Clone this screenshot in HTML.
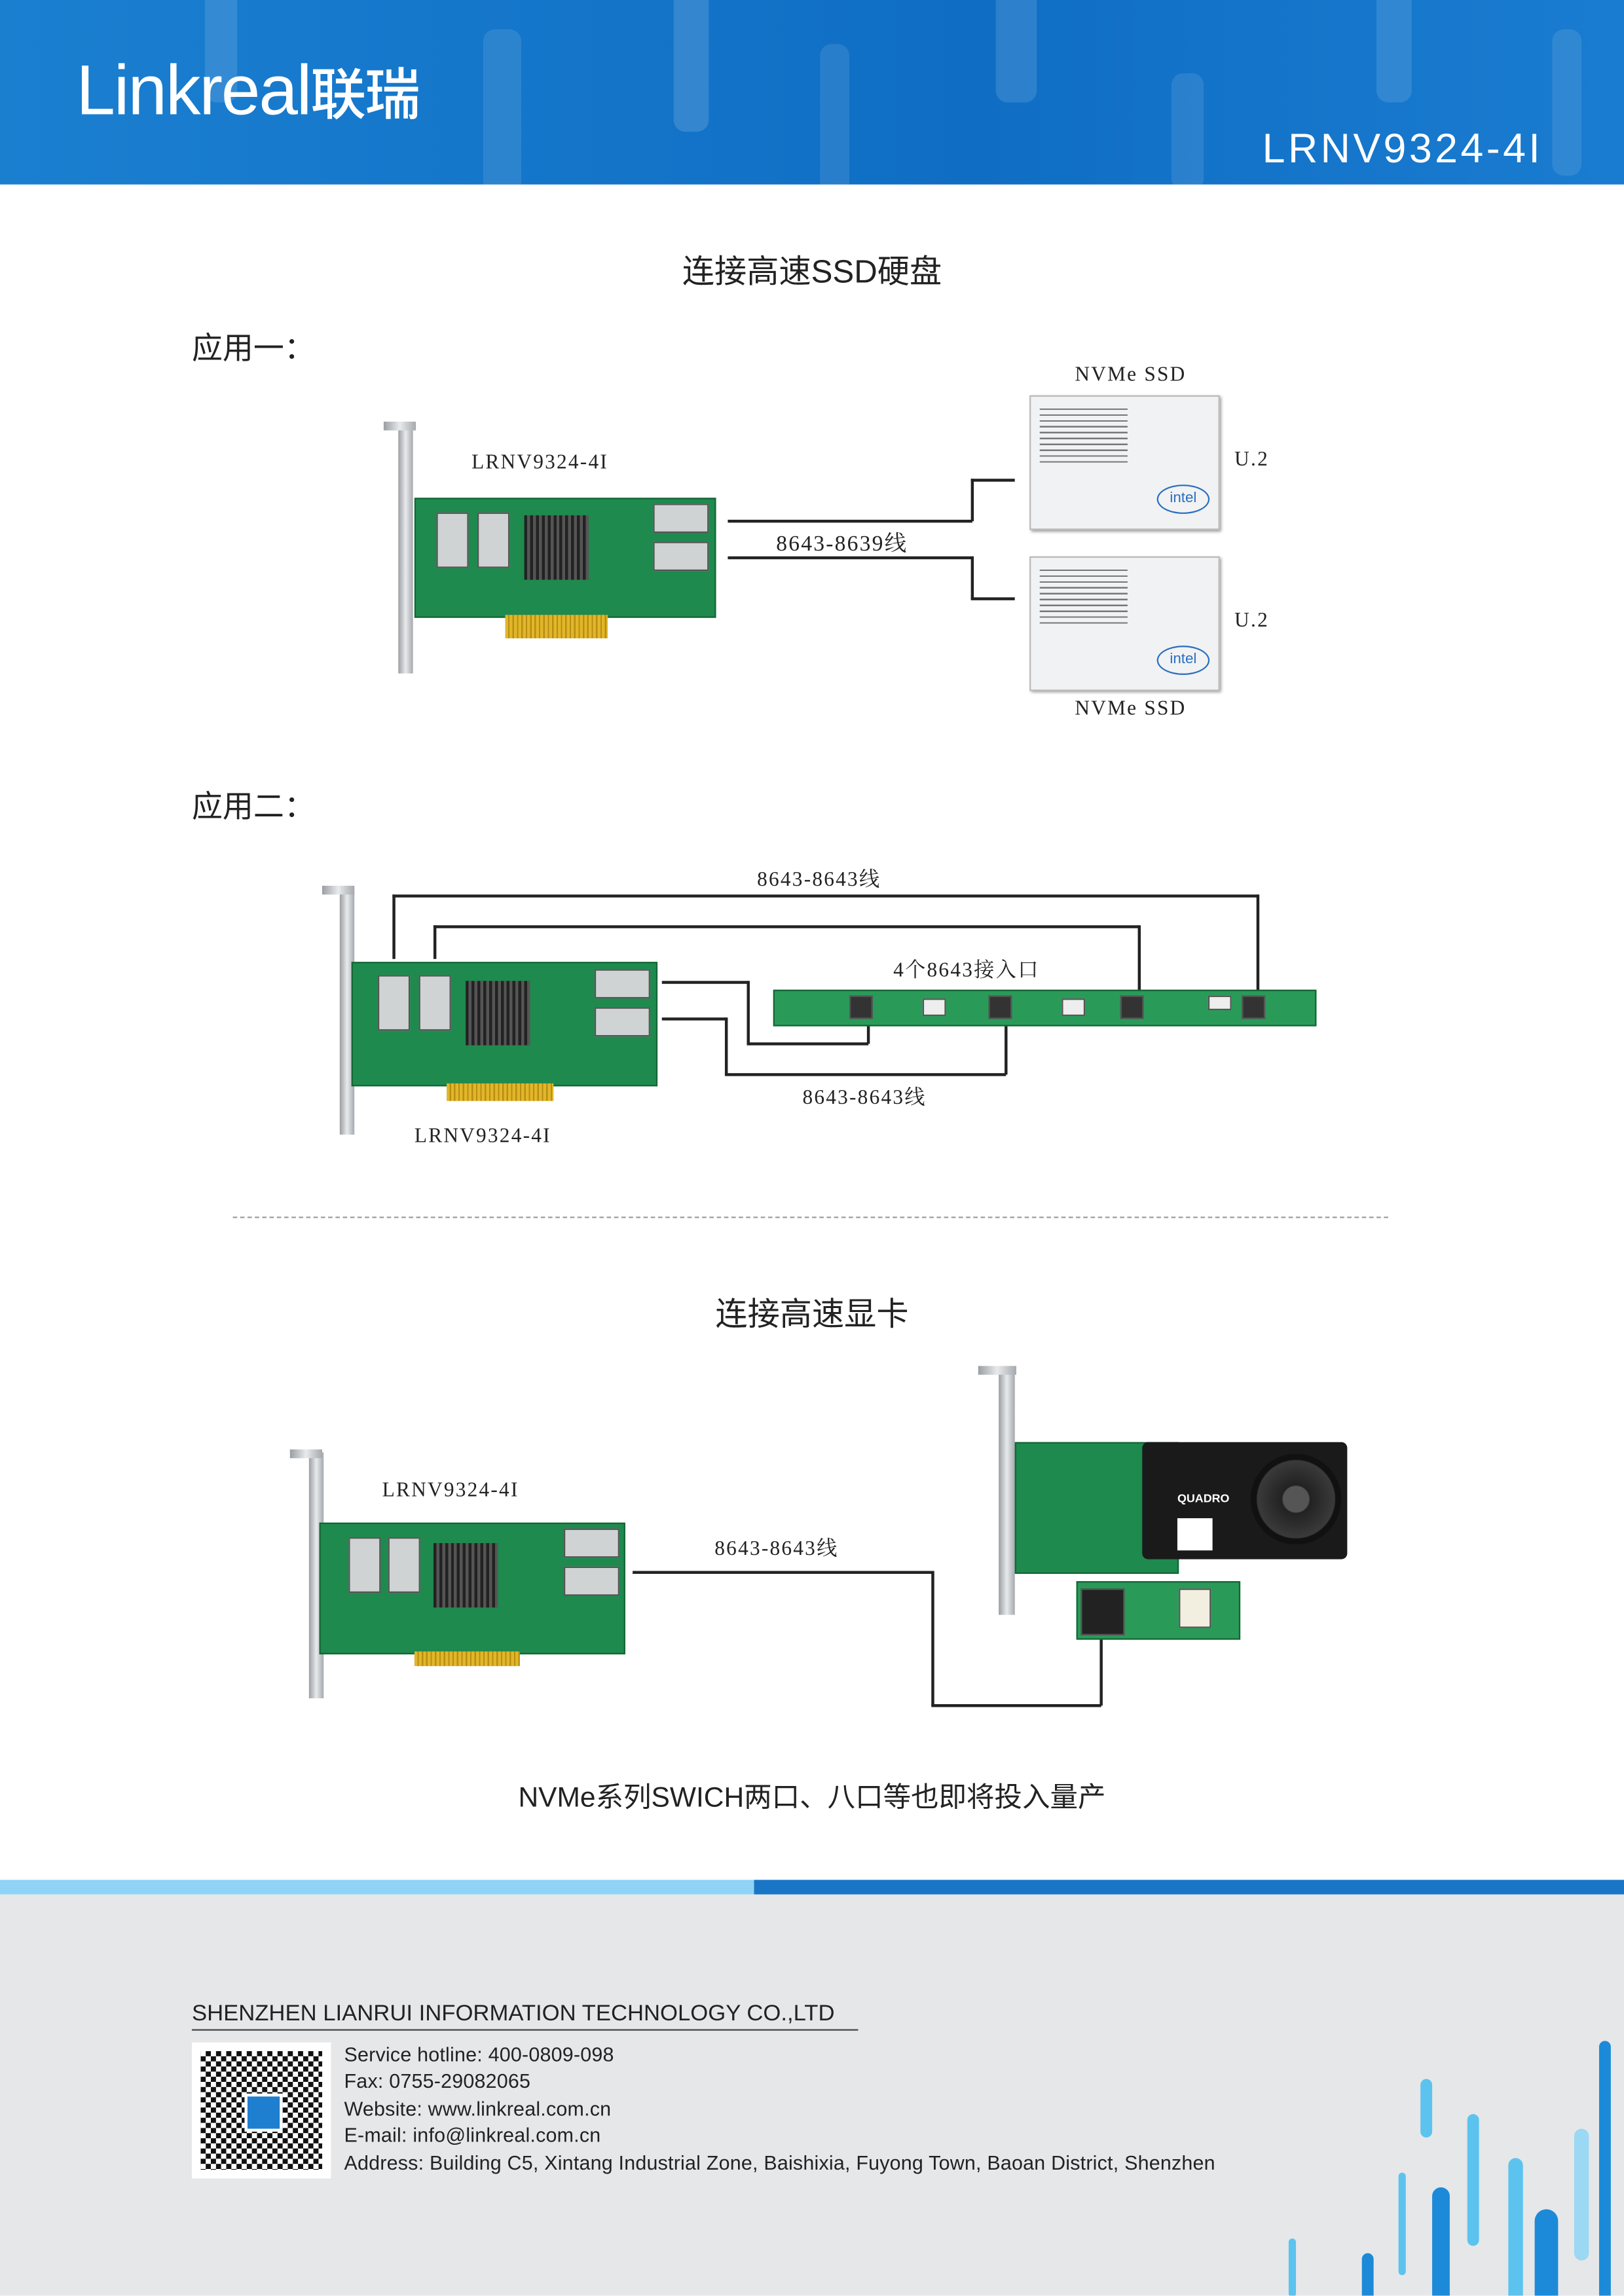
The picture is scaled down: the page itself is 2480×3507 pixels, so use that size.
<!DOCTYPE html>
<html><head><meta charset="utf-8">
<style>
html,body{margin:0;padding:0;}
body{width:2480px;height:3507px;overflow:hidden;background:#fff;}
#w{position:absolute;left:0;top:0;width:1109px;height:1568px;transform:scale(2.23625);transform-origin:0 0;font-family:"Liberation Sans","Noto Sans CJK SC",sans-serif;}
.a{position:absolute;}
.serif{font-family:"Liberation Serif","Noto Serif CJK SC",serif;color:#222;font-size:14px;letter-spacing:1px;white-space:nowrap;}
.l{position:absolute;background:#222;}
.pcb{position:absolute;background:#1e8a4e;border:1px solid #136636;}
.hs{position:absolute;background:repeating-linear-gradient(90deg,#222 0 2px,#555 2px 4px);}
.cn{position:absolute;background:#cfd3d4;border:1px solid #555;}
.br{position:absolute;background:linear-gradient(90deg,#9a9ea2,#e8eaec,#a5a9ad);}
.gold{position:absolute;background:repeating-linear-gradient(90deg,#e2b62a 0 2px,#b88e12 2px 3px);}
.bar{position:absolute;border-radius:8px;}
</style></head><body><div id="w">
<div class="a" style="left:0;top:0;width:1109px;height:126px;background:linear-gradient(90deg,#1b7fd0,#0f6ec4 60%,#1a7cd0);overflow:hidden">
 <div class="bar" style="left:140px;top:-20px;width:22px;height:90px;background:rgba(255,255,255,.12)"></div>
 <div class="bar" style="left:330px;top:20px;width:26px;height:120px;background:rgba(255,255,255,.1)"></div>
 <div class="bar" style="left:460px;top:-10px;width:24px;height:100px;background:rgba(255,255,255,.14)"></div>
 <div class="bar" style="left:560px;top:30px;width:20px;height:110px;background:rgba(255,255,255,.1)"></div>
 <div class="bar" style="left:680px;top:-20px;width:28px;height:90px;background:rgba(255,255,255,.12)"></div>
 <div class="bar" style="left:800px;top:50px;width:22px;height:80px;background:rgba(255,255,255,.1)"></div>
 <div class="bar" style="left:940px;top:-10px;width:24px;height:80px;background:rgba(255,255,255,.12)"></div>
 <div class="bar" style="left:1060px;top:20px;width:20px;height:100px;background:rgba(255,255,255,.1)"></div>
</div>
<div class="a" style="left:52px;top:34px;color:#fff;font-size:48px;font-weight:normal;letter-spacing:-1px">Linkreal<span style="font-size:38px;font-weight:500;font-family:'Noto Sans CJK SC',sans-serif">联瑞</span></div>
<div class="a" style="left:862px;top:86px;color:#fff;font-size:28px;letter-spacing:2px">LRNV9324-4I</div>

<div class="a" style="left:0;width:1109px;top:168px;text-align:center;font-size:22px;color:#222">连接高速SSD硬盘</div>
<div class="a" style="left:131px;top:222px;font-size:21px;color:#222">应用一：</div>

<div class="br" style="left:272px;top:290px;width:10px;height:170px"></div>
<div class="br" style="left:262px;top:288px;width:22px;height:6px"></div>
<div class="pcb" style="left:283px;top:340px;width:204px;height:80px"></div>
<div class="hs" style="left:358px;top:352px;width:44px;height:44px"></div>
<div class="cn" style="left:298px;top:350px;width:20px;height:36px"></div>
<div class="cn" style="left:326px;top:350px;width:20px;height:36px"></div>
<div class="cn" style="left:446px;top:344px;width:36px;height:18px"></div>
<div class="cn" style="left:446px;top:370px;width:36px;height:18px"></div>
<div class="gold" style="left:345px;top:420px;width:70px;height:16px"></div>
<div class="serif a" style="left:322px;top:309px">LRNV9324-4I</div>
<div class="l" style="left:497px;top:355px;width:167px;height:1.5px"></div>
<div class="l" style="left:663px;top:327px;width:1.5px;height:29px"></div>
<div class="l" style="left:663px;top:327px;width:30px;height:1.5px"></div>
<div class="l" style="left:497px;top:380px;width:167px;height:1.5px"></div>
<div class="l" style="left:663px;top:380px;width:1.5px;height:29px"></div>
<div class="l" style="left:663px;top:408px;width:30px;height:1.5px"></div>
<div class="serif a" style="left:530px;top:360px;font-size:15px">8643-8639线</div>
<div class="a" style="left:703px;top:270px;width:128px;height:90px;background:#f1f2f3;border:1px solid #bbb;box-shadow:1px 1px 2px #999"><div style="position:absolute;right:6px;bottom:10px;width:34px;height:18px;border:1.5px solid #2a6fc0;border-radius:50%;color:#2a6fc0;font-size:10px;text-align:center;line-height:18px">intel</div><div style="position:absolute;left:6px;top:8px;width:60px;height:40px;background:repeating-linear-gradient(#777 0 1px,transparent 1px 4px)"></div></div>
<div class="a" style="left:703px;top:380px;width:128px;height:90px;background:#f1f2f3;border:1px solid #bbb;box-shadow:1px 1px 2px #999"><div style="position:absolute;right:6px;bottom:10px;width:34px;height:18px;border:1.5px solid #2a6fc0;border-radius:50%;color:#2a6fc0;font-size:10px;text-align:center;line-height:18px">intel</div><div style="position:absolute;left:6px;top:8px;width:60px;height:40px;background:repeating-linear-gradient(#777 0 1px,transparent 1px 4px)"></div></div>
<div class="serif a" style="left:734px;top:249px">NVMe SSD</div>
<div class="serif a" style="left:734px;top:477px">NVMe SSD</div>
<div class="serif a" style="left:843px;top:307px">U.2</div>
<div class="serif a" style="left:843px;top:417px">U.2</div>

<div class="a" style="left:131px;top:535px;font-size:21px;color:#222">应用二：</div>
<div class="br" style="left:232px;top:607px;width:10px;height:168px"></div>
<div class="br" style="left:220px;top:605px;width:22px;height:6px"></div>
<div class="pcb" style="left:240px;top:657px;width:207px;height:83px"></div>
<div class="hs" style="left:318px;top:670px;width:44px;height:44px"></div>
<div class="cn" style="left:258px;top:666px;width:20px;height:36px"></div>
<div class="cn" style="left:286px;top:666px;width:20px;height:36px"></div>
<div class="cn" style="left:406px;top:662px;width:36px;height:18px"></div>
<div class="cn" style="left:406px;top:688px;width:36px;height:18px"></div>
<div class="gold" style="left:305px;top:740px;width:73px;height:12px"></div>
<div class="serif a" style="left:283px;top:769px">LRNV9324-4I</div>
<div class="l" style="left:268px;top:611px;width:1.5px;height:44px"></div>
<div class="l" style="left:268px;top:611px;width:591px;height:1.5px"></div>
<div class="l" style="left:858px;top:611px;width:1.5px;height:69px"></div>
<div class="l" style="left:296px;top:632px;width:1.5px;height:23px"></div>
<div class="l" style="left:296px;top:632px;width:482px;height:1.5px"></div>
<div class="l" style="left:777px;top:632px;width:1.5px;height:48px"></div>
<div class="l" style="left:452px;top:670px;width:59px;height:1.5px"></div>
<div class="l" style="left:510px;top:670px;width:1.5px;height:43px"></div>
<div class="l" style="left:510px;top:712px;width:83px;height:1.5px"></div>
<div class="l" style="left:592px;top:700px;width:1.5px;height:13px"></div>
<div class="l" style="left:452px;top:695px;width:44px;height:1.5px"></div>
<div class="l" style="left:495px;top:695px;width:1.5px;height:39px"></div>
<div class="l" style="left:495px;top:733px;width:192px;height:1.5px"></div>
<div class="l" style="left:686px;top:700px;width:1.5px;height:34px"></div>
<div class="pcb" style="left:528px;top:676px;width:369px;height:23px;background:#2a9a58"></div>
<div class="cn" style="left:580px;top:680px;width:14px;height:14px;background:#333"></div>
<div class="cn" style="left:675px;top:680px;width:14px;height:14px;background:#333"></div>
<div class="cn" style="left:765px;top:680px;width:14px;height:14px;background:#333"></div>
<div class="cn" style="left:848px;top:680px;width:14px;height:14px;background:#333"></div>
<div class="cn" style="left:630px;top:682px;width:14px;height:10px;background:#eee"></div>
<div class="cn" style="left:725px;top:682px;width:14px;height:10px;background:#eee"></div>
<div class="cn" style="left:825px;top:680px;width:14px;height:8px;background:#eee"></div>
<div class="serif a" style="left:517px;top:590px">8643-8643线</div>
<div class="serif a" style="left:610px;top:652px">4个8643接入口</div>
<div class="serif a" style="left:548px;top:739px">8643-8643线</div>

<div class="a" style="left:159px;top:831px;width:789px;border-top:1px dashed #999"></div>
<div class="a" style="left:0;width:1109px;top:880px;text-align:center;font-size:22px;color:#222">连接高速显卡</div>

<div class="br" style="left:211px;top:992px;width:10px;height:168px"></div>
<div class="br" style="left:198px;top:990px;width:22px;height:6px"></div>
<div class="pcb" style="left:218px;top:1040px;width:207px;height:88px"></div>
<div class="hs" style="left:296px;top:1054px;width:44px;height:44px"></div>
<div class="cn" style="left:238px;top:1050px;width:20px;height:36px"></div>
<div class="cn" style="left:265px;top:1050px;width:20px;height:36px"></div>
<div class="cn" style="left:385px;top:1044px;width:36px;height:18px"></div>
<div class="cn" style="left:385px;top:1070px;width:36px;height:18px"></div>
<div class="gold" style="left:283px;top:1128px;width:72px;height:10px"></div>
<div class="serif a" style="left:261px;top:1011px">LRNV9324-4I</div>
<div class="l" style="left:432px;top:1073px;width:205px;height:1.5px"></div>
<div class="l" style="left:636px;top:1073px;width:1.5px;height:92px"></div>
<div class="l" style="left:636px;top:1164px;width:116px;height:1.5px"></div>
<div class="l" style="left:751px;top:1118px;width:1.5px;height:47px"></div>
<div class="serif a" style="left:488px;top:1047px">8643-8643线</div>
<div class="br" style="left:682px;top:935px;width:11px;height:168px"></div>
<div class="br" style="left:668px;top:933px;width:26px;height:6px"></div>
<div class="pcb" style="left:693px;top:985px;width:110px;height:88px"></div>
<div class="a" style="left:780px;top:985px;width:140px;height:80px;background:#1a1a1a;border-radius:4px"><div style="position:absolute;right:4px;top:8px;width:62px;height:62px;border-radius:50%;background:radial-gradient(#555 0 20%,#222 22%,#3a3a3a 60%,#111 62%)"></div><div style="position:absolute;left:24px;top:34px;color:#fff;font-size:8px;font-weight:bold">QUADRO</div><div style="position:absolute;left:24px;top:52px;width:24px;height:22px;background:#fff"></div></div>
<div class="pcb" style="left:735px;top:1080px;width:110px;height:38px;background:#2a9a58"></div>
<div class="cn" style="left:738px;top:1085px;width:28px;height:30px;background:#222"></div>
<div class="cn" style="left:805px;top:1085px;width:20px;height:25px;background:#f3efe0"></div>

<div class="a" style="left:0;width:1109px;top:1213px;text-align:center;font-size:19px;color:#222">NVMe系列SWICH两口、八口等也即将投入量产</div>

<div class="a" style="left:0;top:1284px;width:1109px;height:10px;background:linear-gradient(90deg,#8fd4f6 0,#8fd4f6 515px,#1976c6 515px)"></div>
<div class="a" style="left:0;top:1294px;width:1109px;height:274px;background:#e6e7e9;overflow:hidden">
 <div class="bar" style="left:970px;top:126px;width:8px;height:40px;background:#5cc3ee"></div>
 <div class="bar" style="left:1002px;top:150px;width:8px;height:90px;background:#5cc3ee"></div>
 <div class="bar" style="left:978px;top:200px;width:12px;height:80px;background:#1c8ad8"></div>
 <div class="bar" style="left:1030px;top:180px;width:10px;height:100px;background:#5cc3ee"></div>
 <div class="bar" style="left:1048px;top:215px;width:16px;height:70px;background:#1c8ad8"></div>
 <div class="bar" style="left:1075px;top:160px;width:10px;height:90px;background:#9ad8f3"></div>
 <div class="bar" style="left:1092px;top:100px;width:8px;height:180px;background:#1c8ad8"></div>
 <div class="bar" style="left:955px;top:190px;width:5px;height:70px;background:#5cc3ee"></div>
 <div class="bar" style="left:930px;top:245px;width:8px;height:40px;background:#1c8ad8"></div>
 <div class="bar" style="left:880px;top:235px;width:5px;height:40px;background:#5cc3ee"></div>
</div>
<div class="a" style="left:131px;top:1367px;font-size:15.5px;color:#222;letter-spacing:0">SHENZHEN LIANRUI INFORMATION TECHNOLOGY CO.,LTD</div>
<div class="a" style="left:131px;top:1386px;width:455px;height:1px;background:#444"></div>
<div class="a" style="left:131px;top:1395px;width:95px;height:93px;background:#fff"><div style="position:absolute;left:6px;top:6px;width:83px;height:81px;background:repeating-conic-gradient(#111 0 25%,#fff 0 50%) 0 0/7px 7px"></div><div style="position:absolute;left:36px;top:35px;width:22px;height:22px;background:#1e7fd0;border:2px solid #fff"></div></div>
<div class="a" style="left:235px;top:1395px;font-size:13.6px;color:#222;line-height:18.4px;letter-spacing:.1px">Service hotline: 400-0809-098<br>Fax: 0755-29082065<br>Website: www.linkreal.com.cn<br>E-mail: info@linkreal.com.cn<br>Address: Building C5, Xintang Industrial Zone, Baishixia, Fuyong Town, Baoan District, Shenzhen</div>
</div></body></html>
